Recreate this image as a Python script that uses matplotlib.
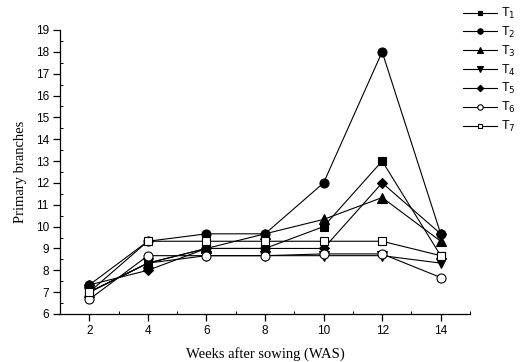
import matplotlib
matplotlib.use("Agg")
import matplotlib.pyplot as plt
from matplotlib.ticker import MultipleLocator

weeks = [2, 4, 6, 8, 10, 12, 14]
labels = ["T$_1$", "T$_2$", "T$_3$", "T$_4$", "T$_5$", "T$_6$", "T$_7$"]
T1 = [7.0, 8.33, 9.0, 9.0, 10.0, 13.0, 8.67]
T2 = [7.33, 9.33, 9.67, 9.67, 12.0, 18.0, 9.67]
T3 = [7.0, 8.33, 9.0, 9.67, 10.33, 11.33, 9.33]
T4 = [7.0, 8.33, 8.67, 8.67, 8.67, 8.67, 8.33]
T5 = [7.33, 8.0, 9.0, 9.0, 9.0, 12.0, 9.67]
T6 = [6.67, 8.67, 8.67, 8.67, 8.75, 8.75, 7.67]
T7 = [7.0, 9.33, 9.33, 9.33, 9.33, 9.33, 8.67]
series = [T1, T2, T3, T4, T5, T6, T7]
markers = ["s", "o", "^", "v", "D", "o", "s"]
fills = ["black", "black", "black", "black", "black", "white", "white"]
sizes = [6, 6.5, 6.5, 6.5, 5.5, 6.5, 6]

fig = plt.figure(figsize=(5.22, 3.62), dpi=100)
ax = fig.add_axes([60/522, 48/362, 410/522, 284/362])

handles = []
for ys, m, fc, ms, lab in zip(series, markers, fills, sizes, labels):
    h, = ax.plot(weeks, ys, color="black", lw=0.8, marker=m, markersize=ms,
                 markerfacecolor=fc, markeredgecolor="black", markeredgewidth=0.8,
                 label=lab)
    handles.append(h)

ax.set_xlim(1, 15)
ax.set_ylim(6, 19)
ax.xaxis.set_major_locator(MultipleLocator(2))
ax.xaxis.set_minor_locator(MultipleLocator(1))
ax.yaxis.set_major_locator(MultipleLocator(1))
ax.yaxis.set_minor_locator(MultipleLocator(0.5))
ax.set_xticks([2, 4, 6, 8, 10, 12, 14])
ax.tick_params(which="major", direction="out", length=5, width=0.9,
               labelsize=8.5, pad=3)
ax.tick_params(which="minor", direction="in", length=2.5, width=0.7)
for lbl in ax.get_xticklabels() + ax.get_yticklabels():
    lbl.set_fontfamily("Liberation Sans")
ax.spines["top"].set_visible(False)
ax.spines["right"].set_visible(False)
ax.spines["left"].set_linewidth(0.9)
ax.spines["bottom"].set_linewidth(0.9)

ax.set_xlabel("Weeks after sowing (WAS)", fontfamily="Liberation Serif",
              fontsize=10.5, labelpad=7)
ax.set_ylabel("Primary branches", fontfamily="Liberation Serif",
              fontsize=10.5, labelpad=6)

leg = fig.legend(handles=handles, labels=labels, loc="upper left",
                 bbox_to_anchor=(458/522, 1 - 1/362), frameon=False,
                 prop={"family": "Liberation Sans", "size": 9},
                 handlelength=2.7, handletextpad=0.35, labelspacing=0.3,
                 markerscale=0.6, borderaxespad=0)

fig.savefig("out.png", dpi=100)
